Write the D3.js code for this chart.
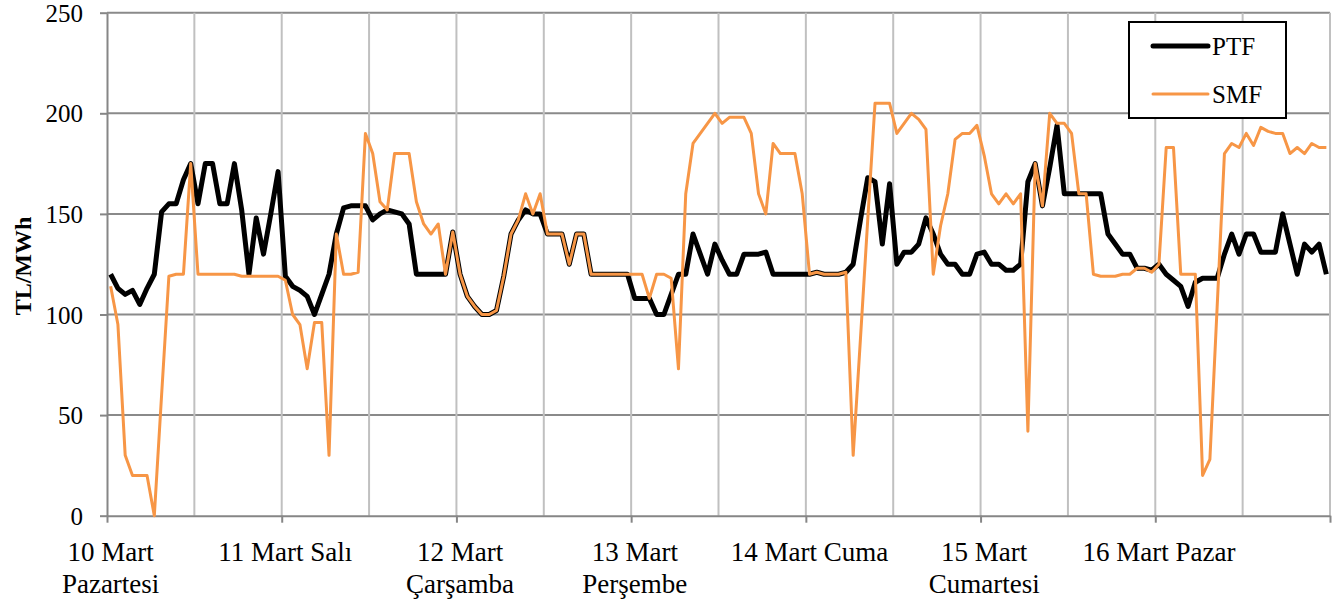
<!DOCTYPE html>
<html>
<head>
<meta charset="utf-8">
<script src="https://cdn.jsdelivr.net/npm/d3@7"></script>
<style>
  html, body { margin: 0; padding: 0; background: #fff; }
  svg { display: block; }
  text { font-family: "Liberation Serif", "Times New Roman", serif; fill: #000; }
</style>
</head>
<body>
<svg id="chart" width="1337" height="603"></svg>
<script>
// ---- Data (hourly, 10–16 Mart) ----
const dayLabels = [
  ["10 Mart", "Pazartesi"],
  ["11 Mart Salı"],
  ["12 Mart", "Çarşamba"],
  ["13 Mart", "Perşembe"],
  ["14 Mart Cuma"],
  ["15 Mart", "Cumartesi"],
  ["16 Mart Pazar"]
];
const yTicks = [0, 50, 100, 150, 200, 250];
const seriesNames = ["PTF", "SMF"];

const ptf = [
  120,113,110,112,105,113,120,151,155,155,167,175,155,175,175,155,155,175,152,120,148,130,150,171,
  119,114,112,109,100,110,120,140,153,154,154,154,147,150,152,151,150,145,120,120,120,120,120,141,
  120,109,104,100,100,102,119,140,147,152,150,150,140,140,140,125,140,140,120,120,120,120,120,120,
  108,108,108,100,100,110,120,120,140,130,120,135,127,120,120,130,130,130,131,120,120,120,120,120,
  120,121,120,120,120,121,125,147,168,166,135,165,125,131,131,135,148,140,130,125,125,120,120,130,
  131,125,125,122,122,125,166,175,154,173,194,160,160,160,160,160,160,140,135,130,130,123,123,122,
  125,120,117,114,104,116,118,118,118,130,140,130,140,140,131,131,131,150,135,120,135,131,135,120
];
const smf = [
  114,95,30,20,20,20,0,60,119,120,120,175,120,120,120,120,120,120,119,119,119,119,119,119,
  117,100,95,73,96,96,30,140,120,120,121,190,180,156,152,180,180,180,156,145,140,145,120,141,
  120,109,104,100,100,102,119,140,147,160,150,160,140,140,140,125,140,140,120,120,120,120,120,120,
  120,120,108,120,120,118,73,160,185,190,195,200,195,198,198,198,190,160,150,185,180,180,180,160,
  120,121,120,120,120,121,30,88,147,205,205,205,190,195,200,197,192,120,144,160,187,190,190,194,
  179,160,155,160,155,160,42,175,154,200,195,195,190,160,160,120,119,119,119,120,120,123,123,121,
  125,183,183,120,120,120,20,28,104,180,185,183,190,184,193,191,190,190,180,183,180,185,183,183
];

(function draw() {
  const svg = d3.select("#chart");
  const pL = 107, pR = 1330, pT = 12.7, pB = 515.7;
  const nHours = ptf.length;

  const x = d3.scaleLinear().domain([0, nHours]).range([pL, pR]);
  const y = d3.scaleLinear().domain([0, 250]).range([pB, pT]);

  // horizontal gridlines
  svg.append("g").selectAll("line")
    .data(yTicks.filter(v => v > 0))
    .join("line")
    .attr("x1", pL).attr("x2", pR)
    .attr("y1", d => y(d)).attr("y2", d => y(d))
    .attr("stroke", "#8a8a8a").attr("stroke-width", 2);

  // vertical gridlines every 12 hours
  svg.append("g").selectAll("line")
    .data(d3.range(12, nHours + 1, 12))
    .join("line")
    .attr("x1", d => x(d)).attr("x2", d => x(d))
    .attr("y1", pT).attr("y2", pB)
    .attr("stroke", "#c0c0c0").attr("stroke-width", 2);

  // y axis
  const yAxis = svg.append("g")
    .attr("transform", `translate(${pL},0)`)
    .call(d3.axisLeft(y).tickValues(yTicks).tickSize(7).tickPadding(17).tickSizeOuter(0));
  yAxis.select(".domain").attr("stroke", "#868686").attr("stroke-width", 2);
  yAxis.selectAll(".tick line").attr("stroke", "#868686").attr("stroke-width", 2);
  yAxis.selectAll(".tick text")
    .style("font-family", '"Liberation Serif", serif')
    .style("font-size", "25px").attr("fill", "#000").attr("dy", "0.34em");

  // x axis (ticks at day boundaries)
  const xAxis = svg.append("g")
    .attr("transform", `translate(0,${pB})`)
    .call(d3.axisBottom(x).tickValues(d3.range(0, nHours + 1, 24)).tickSize(7).tickFormat("").tickSizeOuter(0));
  xAxis.select(".domain").attr("stroke", "#868686").attr("stroke-width", 2);
  xAxis.selectAll(".tick line").attr("stroke", "#868686").attr("stroke-width", 2);

  // day labels centered on first hour of each day
  const lab = svg.append("g").selectAll("text")
    .data(dayLabels)
    .join("text")
    .attr("x", (d, i) => x(i * 24 + 0.5))
    .attr("y", 561)
    .attr("text-anchor", "middle")
    .style("font-size", "27px");
  lab.selectAll("tspan")
    .data(d => d)
    .join("tspan")
    .attr("x", function() { return d3.select(this.parentNode).attr("x"); })
    .attr("dy", (d, i) => i === 0 ? 0 : 32)
    .text(d => d);

  // y title
  svg.append("text")
    .attr("transform", `translate(31,266) rotate(-90)`)
    .attr("text-anchor", "middle")
    .style("font-size", "24px").style("font-weight", "bold")
    .text("TL/MWh");

  // lines
  const line = d3.line().x((d, i) => x(i + 0.5)).y(d => y(d)).curve(d3.curveLinear);
  svg.append("path").datum(ptf)
    .attr("d", line).attr("fill", "none")
    .attr("stroke", "#000").attr("stroke-width", 5).attr("stroke-linejoin", "round");
  svg.append("path").datum(smf)
    .attr("d", line).attr("fill", "none")
    .attr("stroke", "#F79646").attr("stroke-width", 3).attr("stroke-linejoin", "round");

  // legend
  const lg = svg.append("g");
  lg.append("rect").attr("x", 1129).attr("y", 22).attr("width", 157).attr("height", 96)
    .attr("fill", "#fff").attr("stroke", "#000").attr("stroke-width", 2);
  const legendItems = [
    { name: seriesNames[0], color: "#000", w: 5, yy: 46 },
    { name: seriesNames[1], color: "#F79646", w: 3, yy: 94 }
  ];
  legendItems.forEach(it => {
    lg.append("line").attr("x1", 1153).attr("x2", 1208).attr("y1", it.yy).attr("y2", it.yy)
      .attr("stroke", it.color).attr("stroke-width", it.w).attr("stroke-linecap", "round");
    lg.append("text").attr("x", 1212).attr("y", it.yy + 9)
      .style("font-size", "25px").text(it.name);
  });
})();
</script>
</body>
</html>
